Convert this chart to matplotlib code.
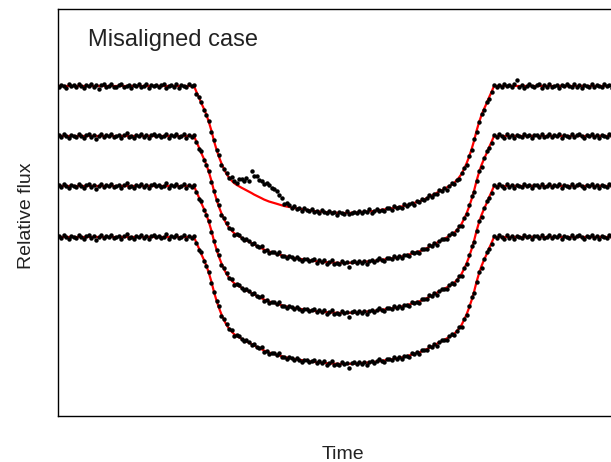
import numpy as np
import matplotlib
matplotlib.use("Agg")
import matplotlib.pyplot as plt

plt.rcParams['font.family'] = ['Liberation Sans', 'DejaVu Sans']

# ---------------- data ----------------
# observation times (hours from mid-transit), uniform cadence
n_obs = 229
obs_time = np.linspace(-2.85, 2.85, n_obs)

# model transit depth (ppm) for the in-transit samples t = -1.5 ... +1.5 h
transit_depth_ppm = [
    0, 600, 1150, 1750, 2300, 2900, 3650, 4500, 5500, 6350,
    7100, 7750, 8300, 8800, 9150, 9450, 9700, 9880, 10030, 10170,
    10300, 10440, 10550, 10700, 10850, 10970, 11100, 11220, 11350, 11450,
    11550, 11620, 11700, 11770, 11850, 11920, 12000, 12050, 12100, 12150,
    12200, 12240, 12270, 12310, 12350, 12390, 12420, 12460, 12500, 12520,
    12550, 12570, 12600, 12610, 12630, 12650, 12670, 12680, 12690, 12700,
    12700,
    12700, 12690, 12680, 12670, 12650, 12630, 12610, 12600, 12570, 12550,
    12520, 12500, 12460, 12420, 12390, 12350, 12310, 12270, 12240, 12200,
    12150, 12100, 12050, 12000, 11920, 11850, 11770, 11700, 11620, 11550,
    11450, 11350, 11220, 11100, 10970, 10850, 10700, 10550, 10440, 10300,
    10170, 10030, 9880, 9700, 9450, 9150, 8800, 8300, 7750, 7100,
    6350, 5500, 4500, 3650, 2900, 2300, 1750, 1150, 600, 0,
]
n_pre = 54   # out-of-transit samples before / after

# residual scatter (ppm) for the top light curve
resid_top_ppm = [
    -80, 120, 30, -150, 190, -40, 80, -110, 150, 40, -190, 90, -30, 200, -70, 110, -300, 50, 160, -90,
    10, 230, -50, -130, 80, 170, -80, 30, 120, -160, 70, -10, 210, -120, 40, 150, -200, 90, -40, 130,
    -90, 50, 190, -150, 30, 110, -50, 230, -170, 80, 10, -110, 160, -30, 120, -210, 70, 170, -70, 40,
    130, -120, 80, -40, 200, -160, 30, 110, -80, 190, -10, -190, 90, 40, -110, 150, -50, 210, -130, 70,
    -30, 170, -90, 120, 10, -150, 80, 200, -70, 50, -170, 110, 30, -80, 160, -40, 90, -190, 130, 40,
    -110, 210, -50, 70, -130, 170, 0, -90, 150, -30, 80, -200, 120, 50, -80, 190, -150, 30, 110, -40,
    160, -120, 70, -50, 230, -160, 40, 120, -70, 10, -170, 150, 80, -110, 200, -30, 50, -130, 170, -80,
    30, 120, -190, 90, -10, 160, -90, 50, 210, -150, 40, -70, 130, -40, 110, -210, 80, 190, -50, 10,
    -120, 150, 70, -160, 110, -30, 200, -110, 40, 90, -80, 170, -190, 30, 130, -50, 80, -130, 230, -40,
    50, -90, 160, 650, -70, 120, -150, 40, 190, -30, -110, 80, 150, -170, 70, -50, 210, -80, 30, 130,
    -160, 90, -40, 170, 10, -120, 200, -70, 50, -190, 110, 30, -80, 160, -130, 80, 40, -90, 190, -30,
    120, -150, 70, -50, 170, -110, 30, 90, -40,
]

# residual scatter (ppm) shared by the lower three light curves
resid_low_ppm = [
    50, -110, 160, 10, -200, 120, 40, -80, 230, -30, -150, 80, 190, -50, 110, -250, 30, 150, -90, 70,
    -40, 200, -130, 0, 120, -190, 90, 260, -70, 40, -160, 130, -10, 210, -110, 50, -230, 80, 170, -40,
    110, -80, 30, 250, -150, 70, -30, 190, -120, 10, 160, -200, 90, -50, 130, 40, -170, 230, -80, 30,
    150, -110, 50, -30, 200, -160, 80, 120, -70, 170, -210, 40, 110, -10, -130, 190, 70, -90, 160, -40,
    10, 210, -120, 90, -190, 50, 150, -50, 240, -80, 30, -160, 120, 70, -110, 170, -30, -230, 80, 130,
    -70, 40, 200, -130, 110, -40, 160, -190, 50, 250, -90, 10, -150, 210, -30, 90, -380, 70, 150, -80,
    170, -40, 110, -200, 30, 130, -110, 80, 230, -50, -160, 120, 40, -80, 190, -10, 90, -170, 150, 50,
    -120, 210, -30, 70, -150, 160, 10, -90, 240, -70, 120, -190, 50, 170, -40, -130, 90, 200, -80, 30,
    130, -160, 80, -50, 190, 360, -110, 40, 150, -200, 70, 230, -30, -120, 110, -80, 160, 30, -170, 210,
    -50, 90, -150, 130, 40, -90, 200, -30, 80, -210, 120, 50, -70, 170, -130, 10, 240, -110, 70, -40,
    160, -190, 90, 30, -80, 210, -120, 50, 150, -30, -170, 110, 40, 200, -90, 80, -150, 130, 10, -70,
    190, -40, 110, -130, 70, 160, -80, 30, 120,
]

# spot-crossing anomaly (ppm) in the top light curve, samples 67..94
spot_first_sample = 67
spot_bump_ppm = [
    0, 50, 150, 250, 400, 650, 800, 950, 1050, 1150,
    2000, 2000, 1900, 1750, 1600, 1600, 1600, 1600, 1550, 1300,
    1100, 1000, 700, 400, 280, 150, 50, 0,
]

# vertical offsets of the four light curves
curve_offsets = [0.0, 0.0050, 0.0100, 0.0151]

title_text = "Misaligned case"
x_label = "Time"
y_label = "Relative flux"

# ---------------- build series ----------------
depth = np.concatenate([np.zeros(n_pre), np.array(transit_depth_ppm, float),
                        np.zeros(n_obs - n_pre - len(transit_depth_ppm))]) * 1e-6
model_flux = 1.0 - depth

spot = np.zeros(n_obs)
spot[spot_first_sample:spot_first_sample + len(spot_bump_ppm)] = np.array(spot_bump_ppm) * 1e-6

# ---------------- figure ----------------
W, H = 611, 462
fig = plt.figure(figsize=(W / 100, H / 100), dpi=100)
ax_left, ax_right, ax_top, ax_bottom = 58, 630, 9, 416
ax = fig.add_axes([ax_left / W, (H - ax_bottom) / H,
                   (ax_right - ax_left) / W, (ax_bottom - ax_top) / H])

for k, off in enumerate(curve_offsets):
    if k == 0:
        data = model_flux + np.array(resid_top_ppm) * 1e-6 + spot - off
    else:
        data = model_flux + np.array(resid_low_ppm) * 1e-6 - off
    ax.plot(obs_time, model_flux - off, color='#ff0000', lw=1.6, zorder=2)
    ax.plot(obs_time, data, 'o', color='black', ms=3.2, mew=0, zorder=3)

ax.set_xlim(-2.86, 2.86)
ax.set_ylim(0.9670, 1.0077)
ax.set_xticks([])
ax.set_yticks([])
for s in ax.spines.values():
    s.set_linewidth(1.0)
    s.set_color('black')

fig.text(88 / W, (H - 46) / H, title_text, fontsize=17, color='#222222',
         ha='left', va='baseline')
fig.text(343 / W, (H - 459) / H, x_label, fontsize=14, color='#222222',
         ha='center', va='baseline')
fig.text(27 / W, (H - 216) / H, y_label, fontsize=14, color='#222222',
         rotation=90, ha='center', va='center')

fig.savefig("out.png", dpi=100)
